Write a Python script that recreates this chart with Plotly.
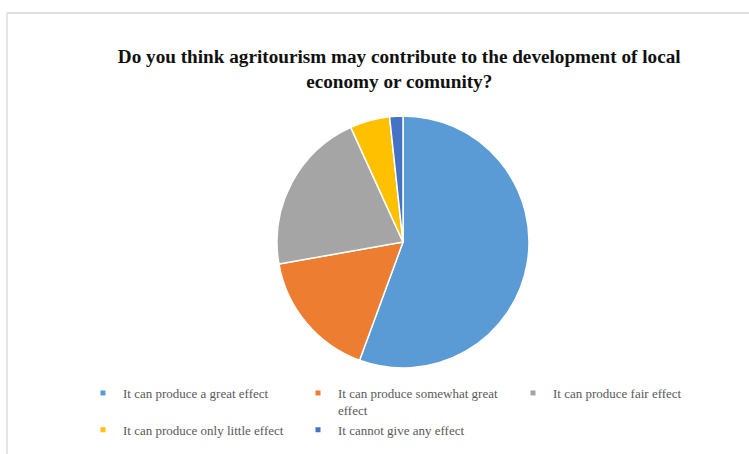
import plotly.graph_objects as go

# Survey answers and their shares (%)
labels = [
    "It can produce a great effect",
    "It can produce somewhat great effect",
    "It can produce fair effect",
    "It can produce only little effect",
    "It cannot give any effect",
]
legend_text = [
    "It can produce a great effect",
    "It can produce somewhat great<br>effect",
    "It can produce fair effect",
    "It can produce only little effect",
    "It cannot give any effect",
]
shares = [55.6, 16.6, 21.0, 5.1, 1.7]
colors = ["#5B9BD5", "#ED7D31", "#A5A5A5", "#FFC000", "#4472C4"]

title_text = ("Do you think agritourism may contribute to the development of local"
              "<br>economy or comunity?")

W, H = 749, 454

fig = go.Figure()

fig.add_trace(go.Pie(
    labels=labels,
    values=shares,
    sort=False,
    direction="clockwise",
    rotation=0,
    marker=dict(colors=colors, line=dict(color="white", width=1.5)),
    textinfo="none",
    hoverinfo="label+percent",
    showlegend=False,
    domain=dict(x=[277 / W, 529 / W], y=[1 - 368 / H, 1 - 116 / H]),
))

# small square keys for the legend
for name, col in zip(legend_text, colors):
    fig.add_trace(go.Scatter(
        x=[None], y=[None], mode="markers", name=name,
        marker=dict(symbol="square", size=5, color=col),
        hoverinfo="skip",
    ))

fig.update_layout(
    width=W, height=H,
    margin=dict(l=0, r=0, t=0, b=0, autoexpand=False),
    paper_bgcolor="white",
    plot_bgcolor="white",
    xaxis=dict(visible=False),
    yaxis=dict(visible=False),
    title=dict(
        text=title_text,
        x=0.533, xanchor="center",
        y=1 - 63 / H, yanchor="top", yref="container",
        font=dict(family="Liberation Serif", size=19.2, color="#111111", weight="bold"),
    ),
    legend=dict(
        orientation="h",
        x=83 / W, xanchor="left",
        y=1 - 378 / H, yanchor="top",
        entrywidth=170, entrywidthmode="pixels",
        font=dict(family="Liberation Serif", size=13, color="#595959"),
        valign="top",
        itemsizing="trace",
        traceorder="normal",
        bgcolor="rgba(0,0,0,0)",
    ),
    shapes=[
        dict(type="line", xref="paper", yref="paper",
             x0=7 / W, x1=1, y0=1 - 13 / H, y1=1 - 13 / H,
             line=dict(color="#d4d4d4", width=1.5)),
        dict(type="line", xref="paper", yref="paper",
             x0=7 / W, x1=7 / W, y0=0, y1=1 - 13 / H,
             line=dict(color="#dcdcdc", width=1.5)),
    ],
)

fig.write_html("out.html")
